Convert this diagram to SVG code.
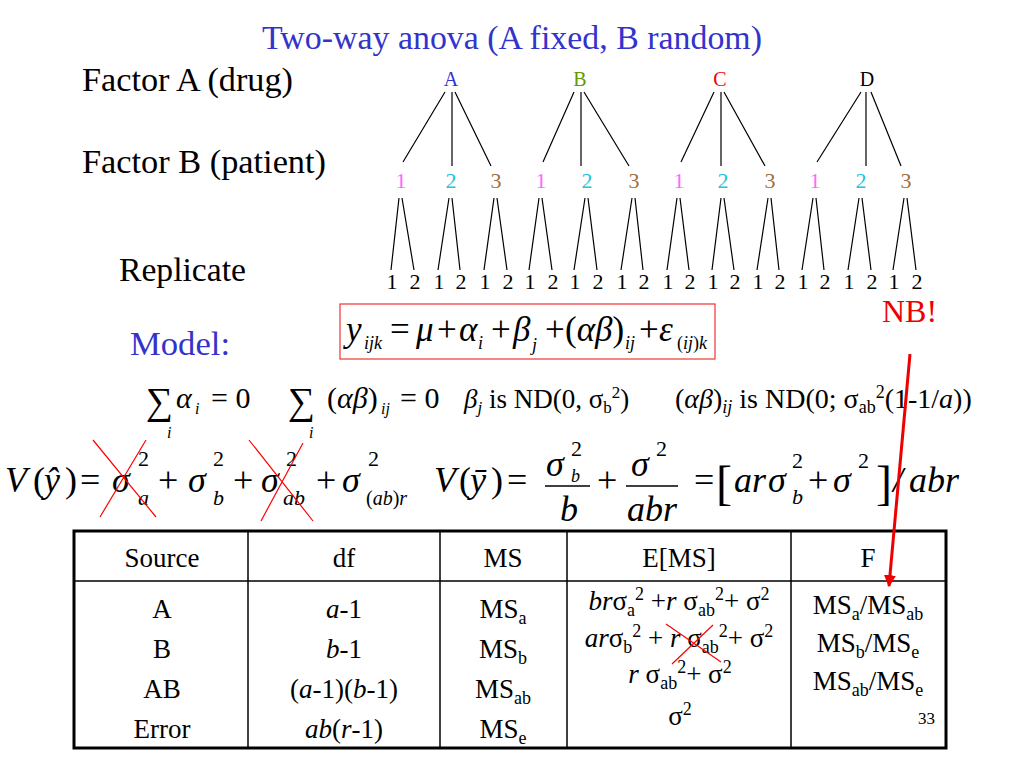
<svg xmlns="http://www.w3.org/2000/svg" width="1024" height="768" viewBox="0 0 1024 768" font-family="'Liberation Serif', 'Times New Roman', Times, serif">
<defs>
<style>
.it{font-style:italic}
.blue{fill:#3333cc}
.red{fill:#ee0000}
.lbl{font-size:34px}
.top{font-size:20px}
.mid{font-size:22px}
.leaf{font-size:22px;text-anchor:middle}
.tl{stroke:#000;stroke-width:1.2;fill:none}
.x{stroke:#ff0000;stroke-width:1.2;fill:none}
.eq{font-size:35px}
.v{font-size:36px}
.s{font-size:27px}
.s2{font-size:30px}
.tb{font-size:27px;text-anchor:middle}
.grid{stroke:#000;stroke-width:1.5;fill:none}
</style>
<marker id="ah" viewBox="0 0 10 10" refX="9" refY="5" markerWidth="4" markerHeight="4" orient="auto" markerUnits="strokeWidth">
<path d="M0,0 L10,5 L0,10 z" fill="#ee0000"/>
</marker>
</defs>
<rect width="1024" height="768" fill="#fff"/>

<text class="lbl blue" x="262" y="49" textLength="500" lengthAdjust="spacingAndGlyphs">Two-way anova (A fixed, B random)</text>
<text class="lbl" x="82" y="91" textLength="211" lengthAdjust="spacingAndGlyphs">Factor A (drug)</text>
<text class="lbl" x="82" y="173" textLength="244" lengthAdjust="spacingAndGlyphs">Factor B (patient)</text>
<text class="lbl" x="119" y="281" textLength="127" lengthAdjust="spacingAndGlyphs">Replicate</text>
<text class="lbl blue" x="130" y="355" textLength="100" lengthAdjust="spacingAndGlyphs">Model:</text>

<g id="tree-top">
<text class="top" x="451" y="86" text-anchor="middle" style="fill:#3333cc">A</text>
<text class="top" x="580" y="86" text-anchor="middle" style="fill:#669900">B</text>
<text class="top" x="720" y="86" text-anchor="middle" style="fill:#ee0000">C</text>
<text class="top" x="867" y="86" text-anchor="middle">D</text>
</g>
<g id="tree-mid">
<text class="mid" x="401" y="188" text-anchor="middle" style="fill:#ff66ff">1</text>
<text class="mid" x="451" y="188" text-anchor="middle" style="fill:#22c4dd">2</text>
<text class="mid" x="496" y="188" text-anchor="middle" style="fill:#a07040">3</text>
<text class="mid" x="541" y="188" text-anchor="middle" style="fill:#ff66ff">1</text>
<text class="mid" x="587" y="188" text-anchor="middle" style="fill:#22c4dd">2</text>
<text class="mid" x="634" y="188" text-anchor="middle" style="fill:#a07040">3</text>
<text class="mid" x="679" y="188" text-anchor="middle" style="fill:#ff66ff">1</text>
<text class="mid" x="723" y="188" text-anchor="middle" style="fill:#22c4dd">2</text>
<text class="mid" x="770" y="188" text-anchor="middle" style="fill:#a07040">3</text>
<text class="mid" x="815" y="188" text-anchor="middle" style="fill:#ff66ff">1</text>
<text class="mid" x="861" y="188" text-anchor="middle" style="fill:#22c4dd">2</text>
<text class="mid" x="906" y="188" text-anchor="middle" style="fill:#a07040">3</text>
</g>
<g id="tree-leaves">
<text class="leaf" x="392" y="289">1</text><text class="leaf" x="415" y="289">2</text>
<text class="leaf" x="439" y="289">1</text><text class="leaf" x="461" y="289">2</text>
<text class="leaf" x="485" y="289">1</text><text class="leaf" x="508" y="289">2</text>
<text class="leaf" x="530" y="289">1</text><text class="leaf" x="553" y="289">2</text>
<text class="leaf" x="575" y="289">1</text><text class="leaf" x="598" y="289">2</text>
<text class="leaf" x="622" y="289">1</text><text class="leaf" x="644" y="289">2</text>
<text class="leaf" x="668" y="289">1</text><text class="leaf" x="690" y="289">2</text>
<text class="leaf" x="713" y="289">1</text><text class="leaf" x="735" y="289">2</text>
<text class="leaf" x="758" y="289">1</text><text class="leaf" x="780" y="289">2</text>
<text class="leaf" x="803" y="289">1</text><text class="leaf" x="825" y="289">2</text>
<text class="leaf" x="849" y="289">1</text><text class="leaf" x="872" y="289">2</text>
<text class="leaf" x="894" y="289">1</text><text class="leaf" x="917" y="289">2</text>
</g>
<g id="connectors">
<path class="tl" d="M445,92 L403,162 M452,92 L452,166 M455,92 L491,166
M574,92 L543,162 M581,92 L581,166 M584,92 L629,166
M714,92 L681,162 M721,92 L721,166 M724,92 L765,166
M861,92 L817,162 M866,92 L866,166 M871,92 L901,166"/>
<path class="tl" d="M399,198 L391,270 M402,198 L414,270
M449,198 L438,270 M452,198 L460,270
M494,198 L484,270 M497,198 L507,270
M539,198 L529,270 M542,198 L552,270
M585,198 L574,270 M588,198 L597,270
M632,198 L621,270 M635,198 L643,270
M677,198 L667,270 M680,198 L689,270
M721,198 L712,270 M724,198 L734,270
M768,198 L757,270 M771,198 L779,270
M813,198 L802,270 M816,198 L824,270
M859,198 L848,270 M862,198 L871,270
M904,198 L893,270 M907,198 L916,270"/>
</g>

<g id="model">
<rect x="340" y="304" width="375" height="55" fill="none" stroke="#ee3333" stroke-width="1.2"/>
<text class="eq it" x="346" y="341">y</text>
<text class="it" x="364" y="349" font-size="18">ijk</text>
<text class="eq" x="390" y="341">=</text>
<text class="eq it" x="416" y="341">μ</text>
<text class="eq" x="437" y="341">+</text>
<text class="eq it" x="459" y="341">α</text>
<text class="it" x="478" y="349" font-size="18">i</text>
<text class="eq" x="491" y="341">+</text>
<text class="eq it" x="513" y="341">β</text>
<text class="it" x="532" y="351" font-size="18">j</text>
<text class="eq" x="545" y="341">+</text>
<text class="eq" x="565" y="341">(<tspan class="it">αβ</tspan>)</text>
<text class="it" x="625" y="349" font-size="18">ij</text>
<text class="eq" x="639" y="341">+</text>
<text class="eq it" x="659" y="341">ε</text>
<text x="677" y="349" font-size="18">(<tspan class="it">ij</tspan>)<tspan class="it">k</tspan></text>
</g>

<text x="882" y="322" font-size="32" class="red">NB!</text>

<g id="constraints">
<text x="146" y="414" font-size="38">∑</text>
<text class="it" x="167" y="438" font-size="16">i</text>
<text class="s2 it" x="176" y="408">α</text>
<text class="it" x="195" y="414" font-size="16">i</text>
<text class="s2" x="211" y="408">= 0</text>
<text x="288" y="414" font-size="38">∑</text>
<text class="it" x="309" y="438" font-size="16">i</text>
<text class="s2" x="327" y="408">(<tspan class="it">αβ</tspan>)</text>
<text class="it" x="381" y="414" font-size="16">ij</text>
<text class="s2" x="400" y="408">= 0</text>
<text class="s" x="464" y="408"><tspan class="it">β</tspan><tspan class="it" font-size="17" dy="5">j</tspan><tspan dy="-5"> is ND(0, σ</tspan><tspan font-size="17" dy="5">b</tspan><tspan font-size="17" dy="-15">2</tspan><tspan dy="10">)</tspan></text>
<text x="675" y="408" font-size="28">(<tspan class="it">αβ</tspan>)<tspan class="it" font-size="18" dy="5">ij</tspan><tspan dy="-5"> is ND(0; σ</tspan><tspan font-size="18" dy="5">ab</tspan><tspan font-size="18" dy="-15">2</tspan><tspan dy="10">(1-1/</tspan><tspan class="it">a</tspan>))</text>
</g>

<g id="variance1">
<text class="v it" x="5" y="492">V</text>
<text class="v" x="33" y="492">(</text>
<text class="v it" x="44" y="492">ŷ</text>
<text class="v" x="65" y="492">)</text>
<text class="v" x="80" y="492">=</text>
<text class="v it" x="112" y="492">σ</text>
<text x="138" y="466" font-size="22">2</text>
<text class="it" x="138" y="505" font-size="22">a</text>
<text class="v" x="158" y="492">+</text>
<text class="v it" x="188" y="492">σ</text>
<text x="213" y="466" font-size="22">2</text>
<text class="it" x="213" y="505" font-size="22">b</text>
<text class="v" x="233" y="492">+</text>
<text class="v it" x="261" y="492">σ</text>
<text x="286" y="466" font-size="22">2</text>
<text class="it" x="283" y="505" font-size="22">ab</text>
<text class="v" x="316" y="492">+</text>
<text class="v it" x="342" y="492">σ</text>
<text x="368" y="466" font-size="22">2</text>
<text x="366" y="505" font-size="20">(<tspan class="it">ab</tspan>)<tspan class="it">r</tspan></text>
<path class="x" d="M93,440 L156,517 M146,440 L100,517 M249,440 L313,521 M303,443 L261,521"/>
</g>

<g id="variance2">
<text class="v it" x="434" y="492">V</text>
<text class="v" x="459" y="492">(</text>
<text class="v it" x="470" y="492">ȳ</text>
<text class="v" x="491" y="492">)</text>
<text class="v" x="507" y="492">=</text>
<text class="v it" x="546" y="476">σ</text>
<text x="571" y="456" font-size="22">2</text>
<text class="it" x="571" y="482" font-size="18">b</text>
<line x1="545" y1="486" x2="590" y2="486" stroke="#000" stroke-width="1.5"/>
<text class="v it" x="560" y="521">b</text>
<text class="v" x="597" y="492">+</text>
<text class="v it" x="631" y="476">σ</text>
<text x="656" y="456" font-size="22">2</text>
<line x1="626" y1="486" x2="678" y2="486" stroke="#000" stroke-width="1.5"/>
<text class="v it" x="627" y="521">abr</text>
<text class="v" x="694" y="492">=</text>
<text x="716" y="499" font-size="48">[</text>
<text class="v it" x="734" y="492">ar</text>
<text class="v it" x="768" y="492">σ</text>
<text x="792" y="468" font-size="22">2</text>
<text class="it" x="792" y="504" font-size="22">b</text>
<text class="v" x="808" y="492">+</text>
<text class="v it" x="833" y="492">σ</text>
<text x="858" y="468" font-size="22">2</text>
<text x="876" y="499" font-size="48">]</text>
<text class="v it" x="893" y="492">/</text>
<text class="v it" x="909" y="492">abr</text>
</g>

<g id="table">
<rect x="74" y="531" width="872" height="217" fill="none" stroke="#000" stroke-width="3"/>
<path class="grid" d="M74,581 L946,581 M248,531 L248,748 M440,531 L440,748 M567,531 L567,748 M791,531 L791,748"/>
<text class="tb" x="162" y="567">Source</text>
<text class="tb" x="344" y="567">df</text>
<text class="tb" x="503" y="567">MS</text>
<text class="tb" x="679" y="567">E[MS]</text>
<text class="tb" x="868" y="567">F</text>

<text class="tb" x="162" y="618">A</text>
<text class="tb" x="162" y="658">B</text>
<text class="tb" x="162" y="698">AB</text>
<text class="tb" x="162" y="738">Error</text>

<text class="tb" x="344" y="618"><tspan class="it">a</tspan>-1</text>
<text class="tb" x="344" y="658"><tspan class="it">b</tspan>-1</text>
<text class="tb" x="344" y="698">(<tspan class="it">a</tspan>-1)(<tspan class="it">b</tspan>-1)</text>
<text class="tb" x="344" y="738"><tspan class="it">ab</tspan>(<tspan class="it">r</tspan>-1)</text>

<text class="tb" x="503" y="618">MS<tspan font-size="18" dy="6">a</tspan></text>
<text class="tb" x="503" y="658">MS<tspan font-size="18" dy="6">b</tspan></text>
<text class="tb" x="503" y="698">MS<tspan font-size="18" dy="6">ab</tspan></text>
<text class="tb" x="503" y="738">MS<tspan font-size="18" dy="6">e</tspan></text>

<text class="tb" x="679" y="610"><tspan class="it">br</tspan>σ<tspan font-size="18" dy="6">a</tspan><tspan font-size="18" dy="-16">2</tspan><tspan dy="10"> +</tspan><tspan class="it">r</tspan> σ<tspan font-size="18" dy="6">ab</tspan><tspan font-size="18" dy="-16">2</tspan><tspan dy="10">+ σ</tspan><tspan font-size="18" dy="-10">2</tspan></text>
<text class="tb" x="679" y="647"><tspan class="it">ar</tspan>σ<tspan font-size="18" dy="6">b</tspan><tspan font-size="18" dy="-16">2</tspan><tspan dy="10"> + </tspan><tspan class="it">r</tspan> σ<tspan font-size="18" dy="6">ab</tspan><tspan font-size="18" dy="-16">2</tspan><tspan dy="10">+ σ</tspan><tspan font-size="18" dy="-10">2</tspan></text>
<text class="tb" x="680" y="683"><tspan class="it">r</tspan> σ<tspan font-size="18" dy="6">ab</tspan><tspan font-size="18" dy="-16">2</tspan><tspan dy="10">+ σ</tspan><tspan font-size="18" dy="-10">2</tspan></text>
<text class="tb" x="680" y="725">σ<tspan font-size="18" dy="-10">2</tspan></text>
<path class="x" d="M666,624 L721,662 M713,625 L672,664"/>

<text class="tb" x="868" y="614">MS<tspan font-size="18" dy="6">a</tspan><tspan dy="-6">/MS</tspan><tspan font-size="18" dy="6">ab</tspan></text>
<text class="tb" x="868" y="652">MS<tspan font-size="18" dy="6">b</tspan><tspan dy="-6">/MS</tspan><tspan font-size="18" dy="6">e</tspan></text>
<text class="tb" x="868" y="690">MS<tspan font-size="18" dy="6">ab</tspan><tspan dy="-6">/MS</tspan><tspan font-size="18" dy="6">e</tspan></text>
<text x="935" y="724" font-size="17" text-anchor="end">33</text>
</g>

<g id="arrow">
<line x1="910" y1="354" x2="889" y2="586" stroke="#ee0000" stroke-width="3" marker-end="url(#ah)"/>
</g>
</svg>
